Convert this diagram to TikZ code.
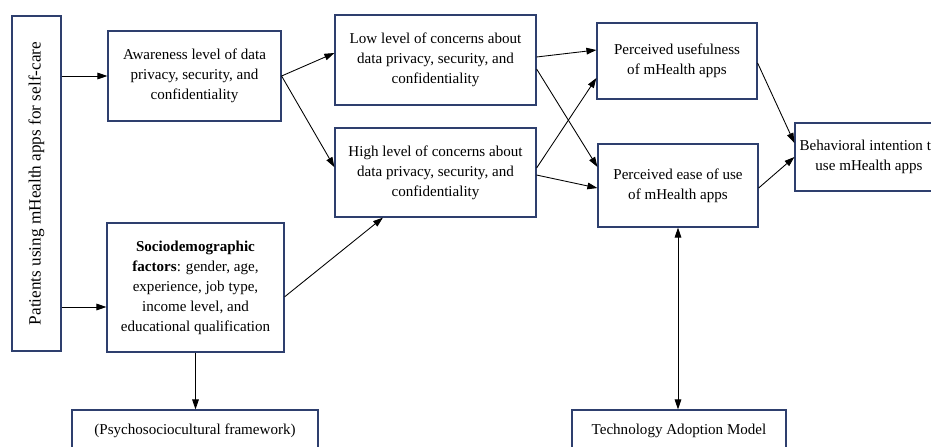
\documentclass[tikz,border=0pt]{standalone}
\usepackage{fontspec}
\setmainfont{Liberation Serif}
\usepackage{tikz}
\usetikzlibrary{arrows.meta,positioning}
\definecolor{boxBlue}{HTML}{2E3F6E}

\begin{document}
\begin{tikzpicture}[
  x=0.75pt, y=-0.75pt,
  every node/.style={font=\fontsize{11.3}{15}\selectfont},
  box/.style={draw=boxBlue, line width=0.9pt, align=center, inner sep=2pt},
  arr/.style={-{Triangle[length=7.5pt,width=5pt]}, line width=0.65pt},
  dblarr/.style={{Triangle[length=7.5pt,width=5pt]}-{Triangle[length=7.5pt,width=5pt]}, line width=0.65pt},
]
\clip (0,0) rectangle (931,446);

% Left column
\node[box, minimum width=251.25pt, minimum height=36.75pt, rotate=90,
  font=\fontsize{12.9}{15}\selectfont] (pat) at (36.5,183.5)
  {Patients using mHealth apps for self-care};
\node[box, minimum width=129.75pt, minimum height=67.5pt] (aware) at (194.5,76)
  {Awareness level of data\\privacy, security, and\\confidentiality};
\node[box, minimum width=132.75pt, minimum height=96.75pt] (socio) at (195.5,287.5)
  {\textbf{Sociodemographic}\\\textbf{factors}: gender, age,\\experience, job type,\\income level, and\\educational qualification};
\node[box, minimum width=184.5pt, minimum height=31.5pt] (psycho) at (195,431)
  {(Psychosociocultural framework)};

% Concern levels
\node[box, minimum width=150.75pt, minimum height=67.5pt] (low) at (435.5,60)
  {Low level of concerns about\\data privacy, security, and\\confidentiality};
\node[box, minimum width=150.75pt, minimum height=66.75pt] (high) at (435.5,172.5)
  {High level of concerns about\\data privacy, security, and\\confidentiality};

% TAM constructs
\node[box, minimum width=120pt, minimum height=57pt] (pu) at (677,61)
  {Perceived usefulness\\of mHealth apps};
\node[box, minimum width=120pt, minimum height=62.25pt] (peou) at (678,185.5)
  {Perceived ease of use\\of mHealth apps};
\node[box, minimum width=111pt, minimum height=51pt] (bi) at (869,157)
  {Behavioral intention to\\use mHealth apps};
\node[box, minimum width=160.5pt, minimum height=31.5pt] (tam) at (679,431)
  {Technology Adoption Model};

% Arrows
\draw[arr] (pat.south |- aware.west) -- (aware.west);
\draw[arr] (pat.south |- 0,307) -- (socio.west |- 0,307);
\draw[arr] (aware.east) -- ([yshift=5.25pt]low.west);
\draw[arr] (aware.east) -- ([yshift=4pt]high.west);
\draw[arr] ([yshift=-7pt]socio.east) -- ([xshift=-39.4pt]high.south);
\draw[arr] ([yshift=2.25pt]low.east) -- ([yshift=8.25pt]pu.west);
\draw[arr] ([yshift=-6.75pt]low.east) -- ([yshift=13.9pt]peou.west);
\draw[arr] ([yshift=3.4pt]high.east) -- ([yshift=-12.75pt]pu.west);
\draw[arr] ([yshift=-1.9pt]high.east) -- ([yshift=-1.9pt]peou.west);
\draw[arr] ([yshift=-1.5pt]pu.east) -- ([yshift=10.5pt]bi.west);
\draw[arr] ([yshift=-1.9pt]peou.east) -- (bi.west);
\draw[arr] (socio.south) -- (socio.south |- psycho.north);
\draw[dblarr] (peou.south) -- (peou.south |- tam.north);

\end{tikzpicture}
\end{document}
